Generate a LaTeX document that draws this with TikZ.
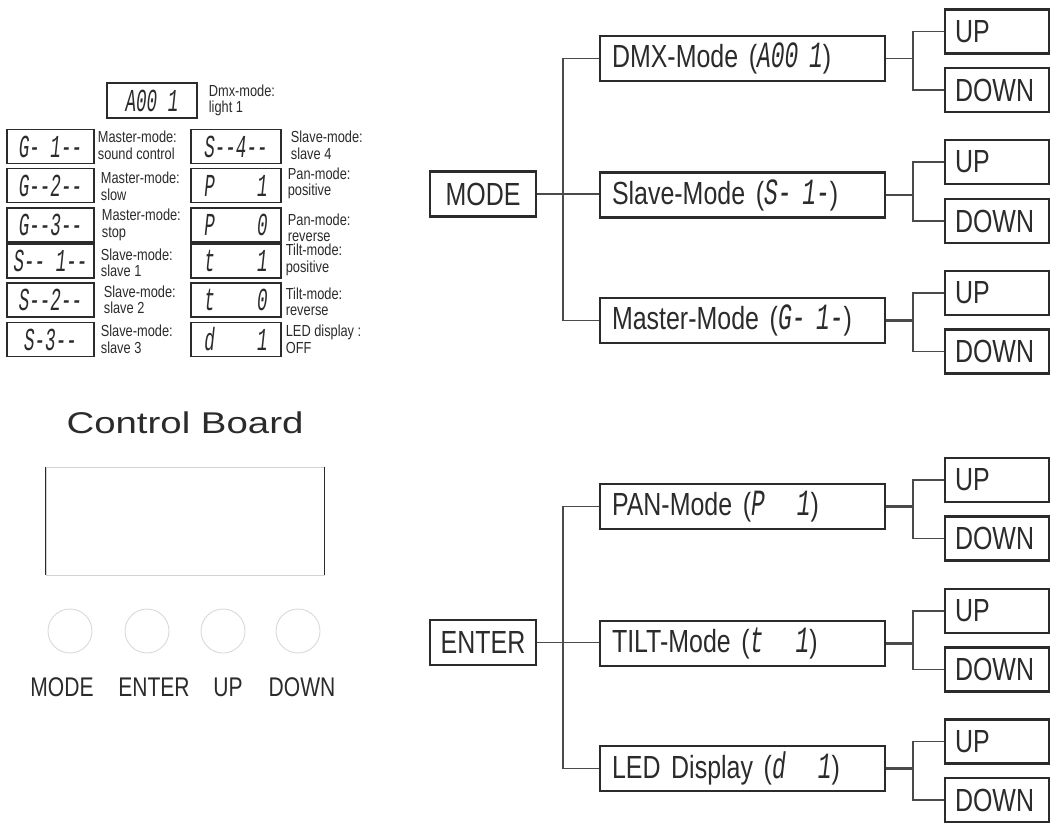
\documentclass[tikz,border=0pt]{standalone}
\usepackage{fontspec}
\setmainfont{Liberation Sans}
\newfontfamily\narrow[FakeStretch=0.78]{Liberation Sans}
\newfontfamily\lnarrow[FakeStretch=0.8]{Liberation Sans}
\newfontfamily\seg[FakeStretch=0.62]{Liberation Mono}
\newfontfamily\segL[FakeStretch=0.55]{Liberation Mono}
\newfontfamily\wide[FakeStretch=1.28]{Liberation Sans}
\definecolor{ink}{HTML}{2B2B2B}
\definecolor{lineink}{HTML}{4A4A4A}
\newcommand{\sg}[1]{{\seg\itshape\fontsize{37}{37}\selectfont #1}}
\begin{document}
\begin{tikzpicture}[x=1pt,y=-1pt,
  tbox/.style={draw=ink, line width=2.2pt, minimum height=45pt, inner sep=0pt,
    font=\narrow\fontsize{32}{34}\selectfont, text=ink},
  rootbox/.style={tbox, minimum width=106pt},
  modebox/.style={tbox, minimum width=285pt, text width=261pt, align=left},
  keybox/.style={tbox, minimum width=104pt, minimum height=44pt, text width=84pt, align=left},
  conn/.style={draw=lineink, line width=1.5pt},
  dispbox/.style={draw=ink, line width=1.3pt, inner sep=0pt, minimum height=34pt,
    font=\segL\itshape\fontsize{32}{32}\selectfont, text=ink},
  dispL/.style={dispbox, minimum width=87pt},
  dispR/.style={dispbox, minimum width=90pt},
  lbl/.style={font=\lnarrow\fontsize{16}{16.5}\selectfont, align=left, anchor=west, inner sep=0pt, text=ink},
  btn/.style={circle, draw=gray!30, line width=0.9pt, minimum size=44pt, inner sep=0pt},
  btnlbl/.style={font=\narrow\fontsize{27}{27}\selectfont, text=ink, inner sep=0pt}
]
\useasboundingbox (0,0) rectangle (1062,829);

% ---------- legend ----------
\node[dispbox, minimum width=90pt, minimum height=35pt] (a001) at (152,100.5) {A00\ 1};
\node[lbl] (la001) at ([xshift=11pt]a001.east) {Dmx-mode:\\light 1};

\node[dispL] (g1) at (50.5,146.5) {G-\ 1--};
\node[dispL] (g2) at (50.5,185.5) {G--2--};
\node[dispL] (g3) at (50.5,225) {G--3--};
\node[dispL] (s1) at (50.5,261) {S--\ 1--};
\node[dispL] (s2) at (50.5,300) {S--2--};
\node[dispL] (s3) at (50.5,339.5) {S-3--};

\node[dispR] (s4) at (236,146.5) {S--4--};
\node[dispR] (p1) at (236,185.5) {P\ \ \ \ 1};
\node[dispR] (p0) at (236,225) {P\ \ \ \ 0};
\node[dispR] (t1) at (236,261) {t\ \ \ \ 1};
\node[dispR] (t0) at (236,300) {t\ \ \ \ 0};
\node[dispR] (d1) at (236,339.5) {d\ \ \ \ 1};

\node[lbl] (lg1) at ([xshift=3pt,yshift=1pt]g1.east) {Master-mode:\\sound control};
\node[lbl] (lg2) at ([xshift=6pt,yshift=-1pt]g2.east) {Master-mode:\\slow};
\node[lbl] (lg3) at ([xshift=7pt]g3.east) {Master-mode:\\stop};
\node[lbl] (ls1) at ([xshift=6pt,yshift=-2pt]s1.east) {Slave-mode:\\slave 1};
\node[lbl] (ls2) at ([xshift=9pt]s2.east) {Slave-mode:\\slave 2};
\node[lbl] (ls3) at ([xshift=6pt]s3.east) {Slave-mode:\\slave 3};
\node[lbl] (ls4) at ([xshift=9pt,yshift=1pt]s4.east) {Slave-mode:\\slave 4};
\node[lbl] (lp1) at ([xshift=6pt,yshift=2pt]p1.east) {Pan-mode:\\positive};
\node[lbl] (lp0) at ([xshift=6pt,yshift=-3pt]p0.east) {Pan-mode:\\reverse};
\node[lbl] (lt1) at ([xshift=4pt,yshift=1pt]t1.east) {Tilt-mode:\\positive};
\node[lbl] (lt0) at ([xshift=4pt,yshift=-2pt]t0.east) {Tilt-mode:\\reverse};
\node[lbl] (ld1) at ([xshift=4pt]d1.east) {LED display :\\OFF};

% ---------- control board ----------
\node[font=\wide\fontsize{30}{30}\selectfont, text=ink, inner sep=0pt] (title) at (185,423) {Control Board};
\node[draw=gray!35, line width=0.8pt, minimum width=278pt, minimum height=108pt, inner sep=0pt] (screen) at (185,521) {};
\draw[ink, line width=1.2pt] (screen.north west) -- (screen.south west);
\draw[ink, line width=1.2pt] (screen.north east) -- (screen.south east);

\node[btn] (bmode) at (70,631) {};
\node[btn] (benter) at (147,631) {};
\node[btn] (bup) at (223,631) {};
\node[btn] (bdown) at (298,631) {};
\node[btnlbl] (tmode) at (62,687) {MODE};
\node[btnlbl] (tenter) at (154,687) {ENTER};
\node[btnlbl] (tup) at (228,687) {UP};
\node[btnlbl] (tdown) at (302,687) {DOWN};

% ---------- MODE tree ----------
\coordinate (tx) at (563,0);
\coordinate (bx) at (913,0);

\node[rootbox] (mode) at (483,194) {MODE};
\node[modebox] (dmx) at (742.5,58.5) {DMX-Mode (\sg{A00\ 1})};
\node[modebox] (slave) at (742.5,195) {Slave-Mode (\sg{S-\ 1-})};
\node[modebox] (master) at (742.5,320.5) {Master-Mode (\sg{G-\ 1-})};

\node[keybox] (up1) at (997,31.5) {UP};
\node[keybox] (dn1) at (997,90) {DOWN};
\node[keybox] (up2) at (997,162) {UP};
\node[keybox] (dn2) at (997,221) {DOWN};
\node[keybox] (up3) at (997,293) {UP};
\node[keybox] (dn3) at (997,351.5) {DOWN};

\draw[conn] (mode.east) -- (mode.east -| slave.west);
\draw[conn] (dmx.west) -- (dmx.west -| tx) -- (master.west -| tx) -- (master.west);

\draw[conn] (dmx.east) -- (dmx.east -| bx);
\draw[conn] (up1.west) -- (up1.west -| bx) -- (dn1.west -| bx) -- (dn1.west);
\draw[conn] (slave.east) -- (slave.east -| bx);
\draw[conn] (up2.west) -- (up2.west -| bx) -- (dn2.west -| bx) -- (dn2.west);
\draw[conn, line width=2.2pt] (master.east) -- (master.east -| bx);
\draw[conn] (up3.west) -- (up3.west -| bx) -- (dn3.west -| bx) -- (dn3.west);

% ---------- ENTER tree ----------
\node[rootbox] (enter) at (483,642.5) {ENTER};
\node[modebox] (pan) at (742.5,506.5) {PAN-Mode (\sg{P\ \ \ 1})};
\node[modebox] (tilt) at (742.5,643.5) {TILT-Mode (\sg{t\ \ \ 1})};
\node[modebox] (led) at (742.5,768.5) {LED Display (\sg{d\ \ \ 1})};

\node[keybox] (up4) at (997,480) {UP};
\node[keybox] (dn4) at (997,538.5) {DOWN};
\node[keybox] (up5) at (997,611) {UP};
\node[keybox] (dn5) at (997,669.5) {DOWN};
\node[keybox] (up6) at (997,741.5) {UP};
\node[keybox] (dn6) at (997,800) {DOWN};

\draw[conn] (enter.east) -- (enter.east -| tilt.west);
\draw[conn] (pan.west) -- (pan.west -| tx) -- (led.west -| tx) -- (led.west);

\draw[conn, line width=2.2pt] (pan.east) -- (pan.east -| bx);
\draw[conn] (up4.west) -- (up4.west -| bx) -- (dn4.west -| bx) -- (dn4.west);
\draw[conn, line width=2.2pt] (tilt.east) -- (tilt.east -| bx);
\draw[conn] (up5.west) -- (up5.west -| bx) -- (dn5.west -| bx) -- (dn5.west);
\draw[conn, line width=2.2pt] (led.east) -- (led.east -| bx);
\draw[conn] (up6.west) -- (up6.west -| bx) -- (dn6.west -| bx) -- (dn6.west);
\end{tikzpicture}
\end{document}
